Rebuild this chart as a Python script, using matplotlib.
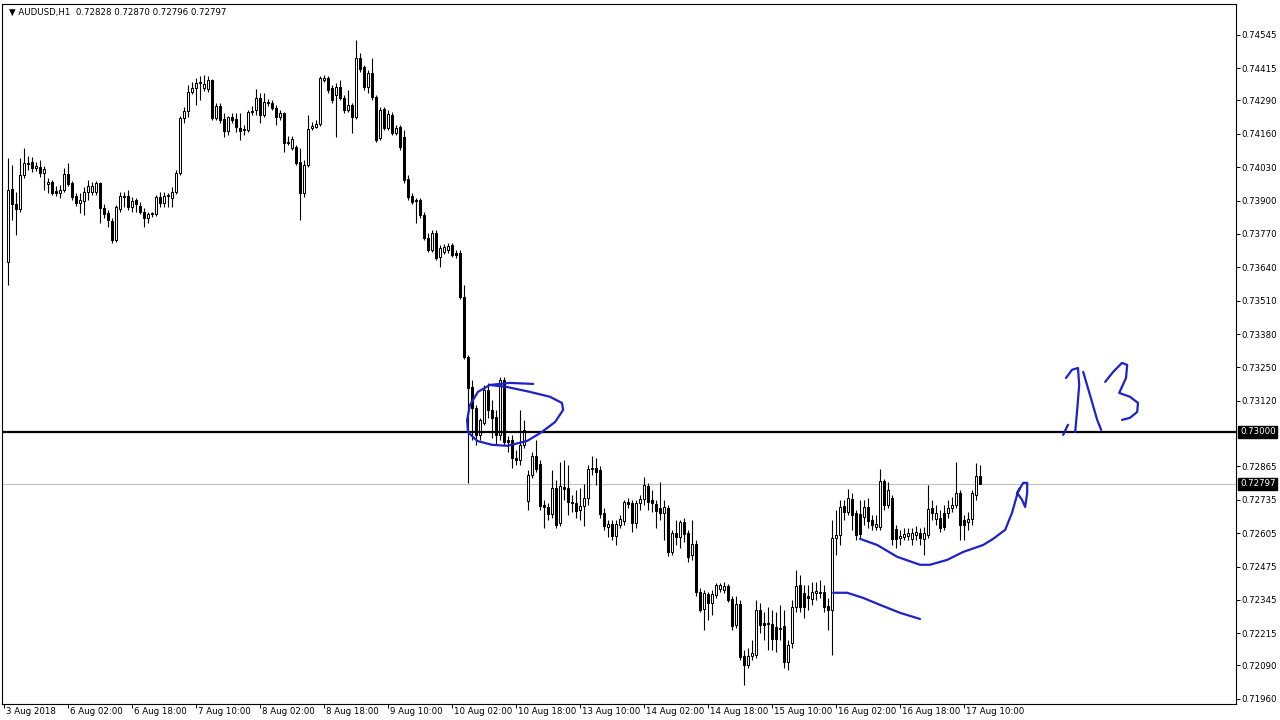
import numpy as np
import matplotlib
matplotlib.use("Agg")
import matplotlib.pyplot as plt
from matplotlib import transforms

plt.rcParams['font.family'] = ['DejaVu Sans']

# ---------------- data (prices in points, 1 point = 0.00001) ----------------
opens = [73661,73945,73887,73867,74000,74046,74050,74027,74031,74007,73965,73972,73937,73930,73941,74004,73969,73918,73891,73898,
         73934,73934,73934,73969,73871,73852,73821,73747,73867,73918,73918,73875,73902,73879,73856,73832,73848,73848,73914,73891,
         73918,73910,73934,74007,74222,74249,74323,74338,74358,74338,74335,74370,74222,74268,74218,74171,74226,74218,74183,74179,
         74175,74245,74253,74300,74233,74284,74280,74261,74226,74241,74124,74105,74109,74050,73930,74039,74183,74187,74198,74370,
         74377,74338,74311,74342,74300,74253,74272,74226,74455,74420,74342,74397,74303,74144,74257,74183,74233,74163,74187,74148,
         73984,73918,73902,73902,73844,73755,73708,73774,73681,73700,73708,73727,73696,73696,73525,73291,73174,73093,72988,73034,
         73163,73085,73058,72988,73202,72968,72968,72898,72890,72949,72731,72832,72906,72875,72715,72707,72680,72781,72645,72785,
         72781,72727,72723,72696,72712,72742,72855,72859,72851,72684,72629,72641,72594,72637,72653,72727,72723,72645,72723,72738,
         72789,72735,72719,72703,72684,72703,72532,72606,72590,72649,72606,72520,72563,72376,72310,72369,72334,72365,72388,72384,
         72400,72349,72248,72330,72127,72092,72127,72131,72306,72256,72252,72252,72240,72236,72244,72104,72178,72318,72404,72373,
         72361,72349,72373,72376,72376,72322,72306,72587,72598,72712,72688,72738,72684,72680,72668,72707,72657,72629,72629,72808,
         72715,72742,72622,72587,72590,72594,72583,72598,72606,72583,72598,72703,72661,72664,72684,72684,72703,72715,72762,72657,
         72649,72661,72754,72828]
highs = [74066,74039,73934,74066,74105,74074,74070,74050,74058,74035,73988,73980,73957,73961,74027,74046,73976,73930,73930,73953,
         73980,73972,73976,73972,73887,73863,73832,73883,73934,73934,73941,73914,73910,73895,73871,73856,73856,73922,73934,73934,
         73930,73953,74019,74229,74264,74350,74362,74377,74385,74389,74385,74373,74280,74280,74241,74229,74241,74241,74241,74194,
         74253,74268,74335,74319,74319,74296,74292,74272,74253,74245,74152,74152,74117,74105,74058,74233,74206,74214,74385,74389,
         74385,74350,74358,74370,74311,74331,74280,74525,74475,74428,74408,74455,74311,74264,74264,74253,74245,74194,74194,74175,
         74000,73930,73910,73910,73856,73774,73786,73786,73727,73731,73735,73735,73708,73708,73572,73299,73202,73104,73054,73182,
         73190,73124,73085,73213,73213,72984,72988,72929,73085,73046,72851,72921,72968,72890,72735,72723,72851,72812,72882,72890,
         72871,72754,72773,72781,72797,72871,72906,72898,72867,72703,72657,72657,72657,72676,72735,72742,72735,72735,72754,72824,
         72801,72773,72735,72805,72735,72715,72618,72657,72657,72664,72618,72657,72579,72392,72384,72376,72384,72411,72411,72415,
         72407,72361,72361,72345,72151,72158,72189,72345,72334,72299,72318,72306,72299,72326,72306,72189,72345,72462,72442,72404,
         72404,72415,72415,72423,72404,72353,72657,72696,72735,72735,72777,72762,72696,72735,72735,72742,72676,72676,72855,72816,
         72805,72754,72637,72618,72625,72625,72625,72633,72625,72629,72793,72735,72715,72696,72715,72735,72746,72882,72773,72676,
         72688,72773,72878,72870]
lows = [73572,73825,73766,73856,73988,74019,74011,74015,73992,73941,73930,73922,73918,73910,73934,73957,73902,73879,73852,73844,
        73902,73922,73922,73813,73832,73797,73735,73739,73856,73875,73863,73856,73856,73848,73797,73813,73836,73840,73875,73875,
        73875,73875,73926,74000,74202,74226,74315,74272,74292,74327,74323,74214,74214,74202,74148,74155,74202,74167,74136,74155,
        74167,74233,74233,74202,74226,74268,74253,74194,74214,74089,74117,74097,74039,73825,73914,74031,74175,74183,74191,74362,
        74319,74280,74148,74292,74241,74245,74163,74218,74401,74331,74319,74292,74128,74136,74175,74175,74155,74155,74097,73969,
        73902,73887,73813,73832,73747,73700,73700,73669,73641,73692,73696,73681,73677,73517,73283,72801,72968,72949,72968,73027,
        73054,72976,72949,72968,72949,72921,72859,72871,72871,72937,72696,72820,72843,72696,72625,72657,72664,72625,72633,72735,
        72676,72688,72664,72657,72633,72715,72832,72793,72664,72618,72590,72579,72559,72625,72637,72703,72610,72625,72696,72715,
        72696,72688,72625,72657,72579,72516,72520,72559,72548,72571,72493,72501,72361,72299,72228,72267,72287,72353,72376,72373,
        72337,72228,72236,72112,72014,72081,72112,72119,72217,72189,72151,72151,72143,72189,72081,72073,72158,72299,72299,72275,
        72306,72326,72345,72353,72299,72228,72131,72520,72559,72657,72676,72618,72579,72587,72637,72625,72618,72618,72618,72696,
        72703,72559,72548,72559,72579,72579,72559,72579,72559,72520,72587,72657,72637,72610,72618,72664,72688,72703,72579,72579,
        72618,72637,72735,72796]
closes = [73941,73887,73867,74000,74046,74042,74027,74035,74007,74023,73972,73930,73930,73941,74004,73965,73914,73891,73902,73934,
          73957,73957,73969,73871,73848,73825,73747,73875,73918,73914,73875,73898,73887,73856,73832,73848,73852,73914,73891,73918,
          73922,73934,74007,74222,74249,74323,74338,74358,74362,74354,74370,74222,74268,74214,74171,74226,74214,74187,74171,74175,
          74245,74249,74300,74233,74284,74280,74261,74226,74241,74124,74128,74140,74046,73930,74039,74179,74191,74198,74377,74377,
          74331,74292,74342,74300,74253,74272,74226,74455,74412,74342,74397,74303,74136,74253,74183,74237,74163,74183,74109,73980,
          73914,73895,73898,73844,73755,73708,73774,73677,73716,73720,73723,73688,73688,73525,73291,73170,73093,72988,73046,73163,
          73085,73054,72988,73202,72960,72960,72898,72890,72949,73007,72832,72906,72855,72712,72707,72680,72781,72637,72789,72777,
          72727,72723,72692,72712,72742,72855,72859,72843,72680,72633,72641,72594,72641,72661,72727,72719,72645,72723,72738,72793,
          72727,72723,72692,72684,72707,72532,72606,72590,72649,72602,72513,72563,72376,72306,72373,72334,72369,72404,72404,72400,
          72345,72244,72330,72123,72092,72127,72139,72306,72248,72248,72256,72193,72193,72232,72104,72170,72318,72400,72318,72318,
          72353,72376,72380,72373,72318,72306,72587,72598,72707,72688,72742,72676,72598,72602,72707,72653,72637,72641,72808,72715,
          72773,72583,72583,72594,72602,72605,72606,72610,72587,72606,72700,72684,72684,72625,72629,72703,72715,72762,72637,72637,
          72661,72762,72828,72797]

x_tick_bars = [0, 16, 32, 48, 64, 80, 96, 112, 128, 144, 160, 176, 192, 208, 224, 240]
x_tick_labels = ["3 Aug 2018", "6 Aug 02:00", "6 Aug 18:00", "7 Aug 10:00", "8 Aug 02:00", "8 Aug 18:00",
                 "9 Aug 10:00", "10 Aug 02:00", "10 Aug 18:00", "13 Aug 10:00", "14 Aug 02:00", "14 Aug 18:00",
                 "15 Aug 10:00", "16 Aug 02:00", "16 Aug 18:00", "17 Aug 10:00"]
y_ticks = [0.71960, 0.72090, 0.72215, 0.72345, 0.72475, 0.72605, 0.72735, 0.72865, 0.73120, 0.73250,
           0.73380, 0.73510, 0.73640, 0.73770, 0.73900, 0.74030, 0.74160, 0.74290, 0.74415, 0.74545]
level_price = 0.73000
bid_price = 0.72797
header = "\u25bc AUDUSD,H1  0.72828 0.72870 0.72796 0.72797"

# hand-drawn annotations (bar index, price in points)
ellipse_bar = [132.2,126.4,121.4,118.4,116.4,115.7,115.9,118.2,121.9,125.7,130.7,134.4,137.7,139.7,139.4,136.4,131.4,125.7,121.4]
ellipse_pts = [73186,73190,73182,73155,73104,73046,72999,72964,72949,72945,72964,72999,73038,73085,73112,73136,73155,73174,73182]
curve_bar = [213.9,218.2,223.2,228.9,231.4,235.7,239.7,244.7,247.2,250.2,251.9,253.4,254.7,255.7,255.7,255.2,254.4,253.2,253.9]
curve_pts = [72583,72559,72513,72482,72482,72501,72532,72559,72583,72618,72684,72766,72801,72801,72762,72707,72735,72762,72781]
low_bar = [207.2,210.7,214.7,218.9,223.9,228.9]
low_pts = [72373,72373,72353,72326,72295,72271]
one_a_bar = [265.4,266.9,268.4,268.7,268.2,267.7]
one_a_pts = [73209,73241,73248,73182,73085,72999]
one_b_bar = [264.7,265.9]
one_b_pts = [72988,73027]
one_c_bar = [269.7,271.4,273.2,274.2]
one_c_pts = [73233,73143,73046,73007]
three_bar = [275.2,277.2,279.4,280.7,280.4,278.7,281.4,283.4,283.2,281.4,279.4]
three_pts = [73194,73233,73268,73260,73209,73151,73136,73112,73077,73054,73046]

# ---------------- figure ----------------
W, H = 1280, 720
fig = plt.figure(figsize=(12.8, 7.2), dpi=100)
fig.patch.set_facecolor('white')
ax = fig.add_axes([2 / W, 16 / H, 1234 / W, 700 / H])
ax.set_facecolor('white')

o = np.array(opens) / 1e5
h = np.array(highs) / 1e5
l = np.array(lows) / 1e5
c = np.array(closes) / 1e5
xb = np.arange(1, len(o) + 1)

ax.axhline(bid_price, color='#c0c0c0', lw=0.8, zorder=1)
ax.axhline(level_price, color='black', lw=1.6, zorder=4)

ax.vlines(xb, l, h, color='black', lw=0.8, zorder=2)
bull = c >= o
bottoms = np.minimum(o, c)
heights = np.maximum(np.abs(c - o), 0.000012)
ax.bar(xb[bull], heights[bull], bottom=bottoms[bull], width=0.5, color='white',
       edgecolor='black', linewidth=0.75, zorder=3)
ax.bar(xb[~bull], heights[~bull], bottom=bottoms[~bull], width=0.5, color='black',
       edgecolor='black', linewidth=0.75, zorder=3)

blue = '#1e22c8'
for bx, py in [(ellipse_bar, ellipse_pts), (curve_bar, curve_pts), (low_bar, low_pts),
               (one_a_bar, one_a_pts), (one_b_bar, one_b_pts), (one_c_bar, one_c_pts),
               (three_bar, three_pts)]:
    ax.plot(bx, np.array(py) / 1e5, color=blue, lw=1.6, solid_capstyle='round',
            solid_joinstyle='round', zorder=5)

ax.set_xlim(-0.575, 307.9)
ax.set_ylim(0.71940, 0.74665)

for s in ax.spines.values():
    s.set_color('black')
    s.set_linewidth(0.8)

fs = 6.2
ax.yaxis.tick_right()
ax.set_yticks(y_ticks)
ax.set_yticklabels([f"{v:.5f}" for v in y_ticks], fontsize=fs)
ax.tick_params(axis='y', direction='out', length=3, width=0.7, pad=0.8, colors='black')

ax.set_xticks(x_tick_bars)
ax.set_xticklabels([])
ax.tick_params(axis='x', direction='out', length=3, width=0.7)
trans = transforms.blended_transform_factory(ax.transData, ax.transAxes)
for tb, lab in zip(x_tick_bars, x_tick_labels):
    ax.text(tb, 0, lab, transform=transforms.offset_copy(trans, fig=fig, x=2, y=-7, units='dots'),
            fontsize=fs, ha='left', va='center', color='black')

for price, txt in [(level_price, "0.73000"), (bid_price, "0.72797")]:
    ax.annotate(txt, xy=(1, price), xycoords=('axes fraction', 'data'), xytext=(4, 0),
                textcoords='offset pixels', fontsize=fs, color='white', ha='left', va='center',
                bbox=dict(boxstyle='square,pad=0.18', fc='black', ec='black'), annotation_clip=False)

fig.text(9 / W, 1 - 12 / H, header, fontsize=fs, ha='left', va='center', color='black')

fig.savefig('out.png', dpi=100, facecolor='white')
